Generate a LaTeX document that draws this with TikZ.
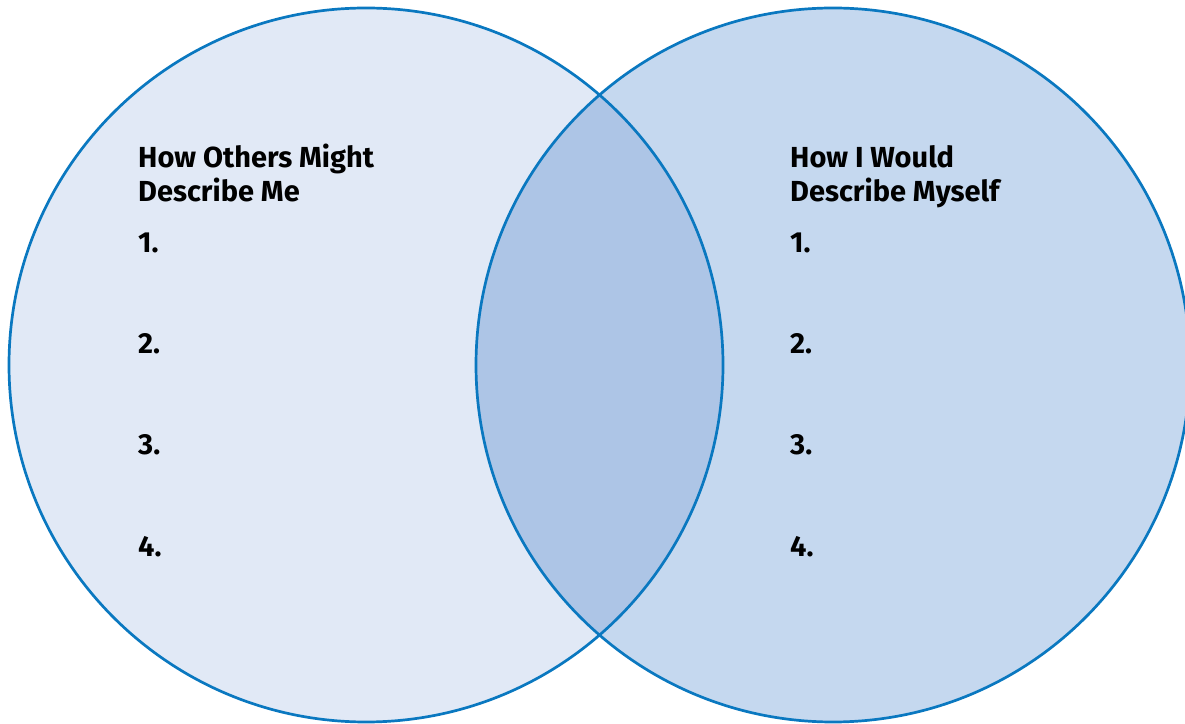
\documentclass[tikz,border=0pt]{standalone}
\usepackage{fontspec}
\setmainfont{Fira Sans}
\definecolor{ringblue}{HTML}{0A78C0}
\definecolor{leftfill}{HTML}{E1E9F6}
\definecolor{rightfill}{HTML}{C5D8EF}
\definecolor{bothfill}{HTML}{ADC5E6}
\begin{document}
\begin{tikzpicture}[x=1pt, y=1pt, ring/.style={draw=ringblue, line width=2.7pt}, heading/.style={anchor=base west, inner sep=0pt, font=\fontsize{29}{34}\selectfont\bfseries, align=left}, item/.style={anchor=base west, inner sep=0pt, font=\fontsize{29}{34}\selectfont\bfseries}]
        \useasboundingbox (0,0) rectangle (1185,723);
        \clip (0,0) rectangle (1185,723);
        % Centres
        \coordinate (L) at (366,358);
        \coordinate (R) at (833,358);

        % Fills
        \fill[leftfill] (L) circle (357);
        \fill[rightfill] (R) circle (357);
        \begin{scope}
            \clip (L) circle (357);
            \fill[bothfill] (R) circle (357);
        \end{scope}

        % Outlines
        \draw[ring] (L) circle (357);
        \draw[ring] (R) circle (357);

        % Left side
        \node[heading] (othersA) at (138,555) {How Others Might};
        \node[heading] (othersB) at (138,521) {Describe Me};
        \foreach \i in {1,...,4}
            \node[item] (other\i) at (138,571-101*\i) {\i.};

        % Right side
        \node[heading] (selfA) at (790,555) {How I Would};
        \node[heading] (selfB) at (790,521) {Describe Myself};
        \foreach \i in {1,...,4}
            \node[item] (self\i) at (790,571-101*\i) {\i.};
    \end{tikzpicture}
\end{document}
